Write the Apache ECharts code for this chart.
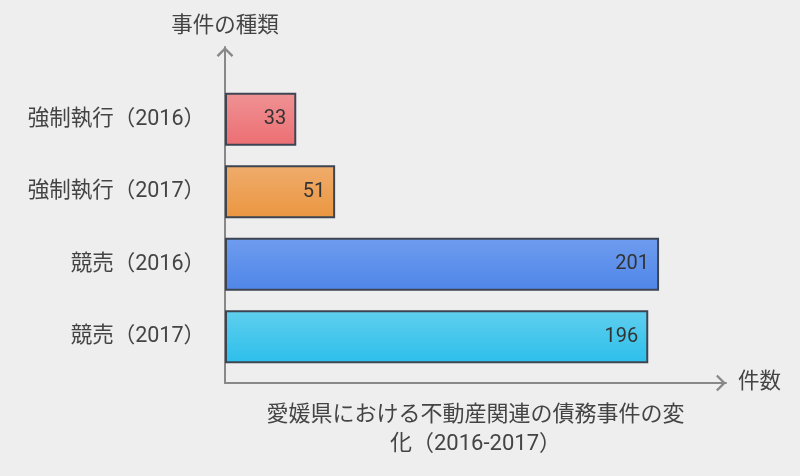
<!DOCTYPE html>
<html>
<head>
<meta charset="utf-8">
<script src="https://cdn.jsdelivr.net/npm/echarts@6/dist/echarts.min.js"></script>
<style>
html,body{margin:0;padding:0;background:#eeeeee;}
#c{width:800px;height:476px;}
</style>
</head>
<body>
<div id="c"></div>
<script>
const categories = ['強制執行（2016）', '強制執行（2017）', '競売（2016）', '競売（2017）'];
const values = [33, 51, 201, 196];
const colorTop = ['#ef9294', '#efac6c', '#6f9cef', '#60cfee'];
const colorBottom = ['#ec6e72', '#eb9640', '#4f86e8', '#2cbfeb'];
const titleText = '愛媛県における不動産関連の債務事件の変\n化（2016-2017）';
const yName = '事件の種類';
const xName = '件数';

const FONT = 'Roboto, "Noto Sans CJK JP", sans-serif';
const chevron = 'path://M0,10 L10,0 L20,10 L18,12 L10,4 L2,12 Z';

const chart = echarts.init(document.getElementById('c'));
chart.setOption({
  backgroundColor: '#eeeeee',
  textStyle: {fontFamily: FONT},
  grid: [
    {left: 225, right: 74, top: 83, bottom: 103},
    {left: 225, right: 74, top: 47, bottom: 93}
  ],
  xAxis: [
    {
      type: 'value', gridIndex: 0, min: 0, max: 232,
      axisLine: {show: false}, axisTick: {show: false}, axisLabel: {show: false}, splitLine: {show: false},
      name: titleText, nameLocation: 'middle', nameGap: 28,
      nameTextStyle: {fontSize: 22, color: '#444', lineHeight: 29, fontFamily: FONT}
    },
    {
      type: 'value', gridIndex: 1, min: 0, max: 1,
      axisLine: {show: true, symbol: ['none', chevron], symbolSize: [17, 10], symbolOffset: [0, -5],
        lineStyle: {color: '#888888', width: 2}},
      axisTick: {show: false}, axisLabel: {show: false}, splitLine: {show: false},
      name: xName, nameLocation: 'end', nameGap: 12,
      nameTextStyle: {fontSize: 21.5, color: '#444', fontFamily: FONT}
    }
  ],
  yAxis: [
    {
      type: 'category', gridIndex: 0, data: categories, inverse: true,
      axisLine: {show: false}, axisTick: {show: false},
      axisLabel: {fontSize: 21.5, color: '#444', margin: 20, fontFamily: FONT}
    },
    {
      type: 'value', gridIndex: 1, min: 0, max: 1,
      axisLine: {show: true, symbol: ['none', chevron], symbolSize: [17, 10], symbolOffset: [0, -5],
        lineStyle: {color: '#888888', width: 2}},
      axisTick: {show: false}, axisLabel: {show: false}, splitLine: {show: false},
      name: yName, nameLocation: 'end', nameGap: 10,
      nameTextStyle: {fontSize: 21.5, color: '#444', fontFamily: FONT, align: 'center'}
    }
  ],
  series: [{
    type: 'bar',
    xAxisIndex: 0, yAxisIndex: 0,
    barWidth: 53,
    data: values.map((v, i) => ({
      value: v,
      itemStyle: {
        color: new echarts.graphic.LinearGradient(0, 0, 0, 1, [
          {offset: 0, color: colorTop[i]},
          {offset: 1, color: colorBottom[i]}
        ]),
        borderColor: '#3e4552', borderWidth: 2
      }
    })),
    label: {show: true, position: 'insideRight', distance: 10, fontSize: 20, color: '#333', fontFamily: FONT},
    z: 1
  }]
});
</script>
</body>
</html>
